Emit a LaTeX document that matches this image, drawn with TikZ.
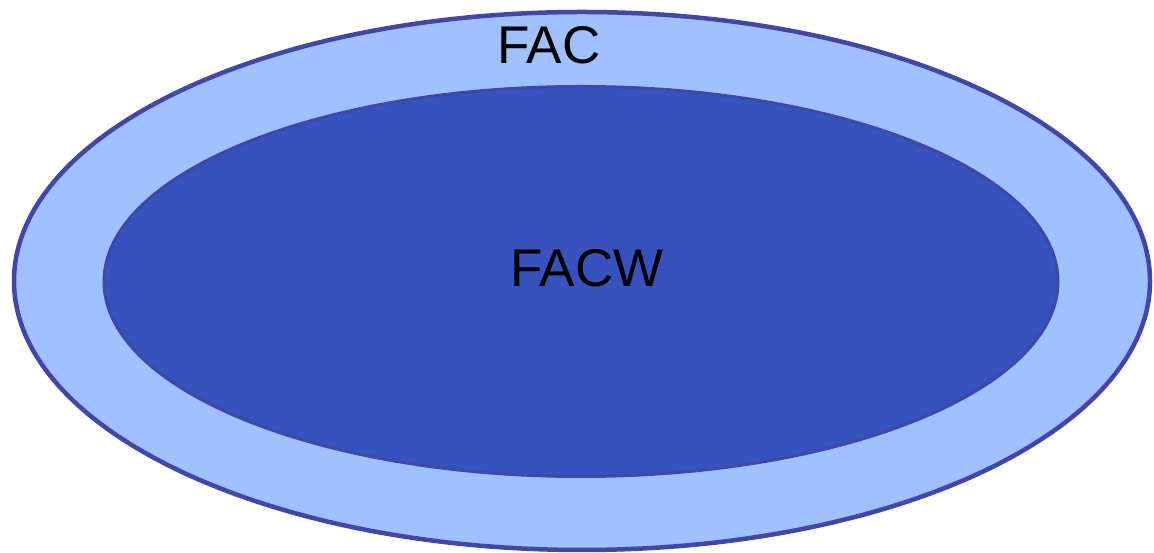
\documentclass[tikz,border=0pt]{standalone}
\usepackage{fontspec}
\setmainfont{Liberation Sans}
\definecolor{lightfill}{RGB}{160,192,255}
\definecolor{darkfill}{RGB}{54,82,190}
\definecolor{rim}{RGB}{66,70,168}
\tikzset{
  lbl/.style={font=\fontsize{53pt}{62pt}\selectfont, text=black, inner sep=0pt}
}
\begin{document}
\begin{tikzpicture}[x=1pt,y=1pt]
\useasboundingbox (0,0) rectangle (1154,553);
\fill[white] (0,0) rectangle (1154,553);
\draw[line width=4.5pt, draw=rim, fill=lightfill] (582,272) ellipse [x radius=568, y radius=269];
\draw[line width=3pt, draw=rim, fill=darkfill] (581,271.5) ellipse [x radius=477, y radius=195];
\node[lbl] (fac) at (549,508) {FAC};
\node[lbl] (facw) at (587,285) {FACW};
\end{tikzpicture}
\end{document}
